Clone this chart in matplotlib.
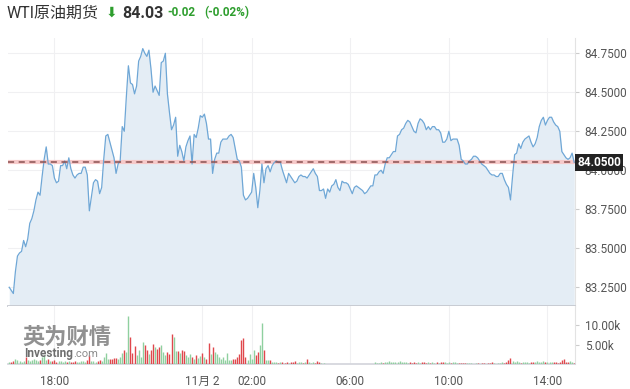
import matplotlib
matplotlib.use('Agg')
import matplotlib.pyplot as plt
import matplotlib.transforms as mtransforms
import numpy as np
import pandas as pd

plt.rcParams['font.family'] = ['Roboto', 'Noto Sans CJK SC', 'DejaVu Sans']

# 5-minute closes, 16:10 (Nov 1) -> 15:05 (Nov 2)
prices = [
    83.25, 83.23, 83.21, 83.35, 83.45, 83.47, 83.48, 83.55, 83.51, 83.56,
    83.66, 83.69, 83.74, 83.81, 83.86, 83.84, 83.96, 84.07, 84.15, 84.04,
    84.04, 84.03, 83.95, 83.92, 83.93, 84.03, 84.03, 84.06, 84.01, 84.08,
    84.01, 83.97, 83.95, 83.97, 83.98, 83.98, 84.02, 84.02, 83.97, 83.74,
    83.83, 83.92, 83.94, 83.93, 83.85, 83.89, 84.07, 84.22, 84.23, 84.18,
    84.13, 84.08, 83.98, 84.04, 84.06, 84.28, 84.25, 84.47, 84.67, 84.56,
    84.55, 84.49, 84.54, 84.70, 84.73, 84.78, 84.75, 84.73, 84.77, 84.65,
    84.50, 84.54, 84.51, 84.48, 84.69, 84.70, 84.75, 84.49, 84.37, 84.26,
    84.29, 84.34, 84.09, 84.16, 84.12, 84.06, 84.15, 84.19, 84.22, 84.04,
    84.23, 84.21, 84.27, 84.35, 84.34, 84.36, 84.30, 84.20, 84.20, 83.98,
    84.07, 84.11, 84.11, 84.18, 84.20, 84.20, 84.20, 84.22, 84.23, 84.21,
    84.14, 84.07, 84.06, 84.02, 83.84, 83.81, 83.82, 83.84, 83.86, 83.98,
    83.89, 83.76, 83.87, 84.04, 83.92, 84.01, 84.03, 83.99, 84.03, 84.05,
    84.06, 84.05, 84.05, 84.00, 83.96, 83.92, 83.98, 83.96, 83.94, 83.92,
    83.93, 83.96, 83.97, 83.96, 83.96, 83.95, 83.97, 83.99, 84.01, 83.98,
    83.96, 83.87, 83.87, 83.88, 83.82, 83.88, 83.86, 83.90, 83.91, 83.94,
    83.89, 83.87, 83.93, 83.92, 83.92, 83.91, 83.88, 83.85, 83.89, 83.90,
    83.89, 83.88, 83.87, 83.85, 83.86, 83.88, 83.90, 83.90, 83.97, 83.97,
    83.99, 84.00, 83.98, 84.04, 84.08, 84.08, 84.10, 84.12, 84.12, 84.22,
    84.23, 84.26, 84.27, 84.30, 84.32, 84.31, 84.28, 84.25, 84.24, 84.30,
    84.33, 84.32, 84.30, 84.26, 84.28, 84.26, 84.28, 84.28, 84.26, 84.26,
    84.24, 84.18, 84.18, 84.20, 84.25, 84.19, 84.20, 84.20, 84.20, 84.16,
    84.07, 84.06, 84.04, 84.04, 84.06, 84.07, 84.09, 84.09, 84.08, 84.06,
    84.04, 84.03, 84.02, 84.00, 83.98, 83.97, 83.97, 83.96, 83.96, 83.98,
    83.98, 83.94, 83.91, 83.89, 83.81, 83.96, 84.10, 84.11, 84.17, 84.14,
    84.18, 84.20, 84.21, 84.22, 84.18, 84.15, 84.17, 84.21, 84.28, 84.32,
    84.34, 84.29, 84.32, 84.34, 84.34, 84.31, 84.29, 84.28, 84.25, 84.12,
    84.10, 84.08, 84.07, 84.08, 84.11, 84.05,
]

# volume in thousands of contracts
volumes = [
    0.6, 0.5, 0.8, 1.4, 1.0, 0.8, 0.6, 0.9, 1.8, 1.1,
    0.9, 1.0, 1.2, 1.0, 0.9, 1.0, 1.8, 2.4, 1.0, 1.4,
    0.8, 0.7, 1.0, 0.6, 0.7, 0.8, 0.6, 0.7, 0.5, 0.8,
    0.6, 0.5, 0.7, 0.6, 0.5, 0.7, 0.8, 0.6, 1.0, 2.3,
    0.9, 0.8, 0.6, 0.9, 1.1, 0.8, 1.8, 2.8, 1.4, 1.3,
    1.4, 1.5, 1.6, 1.3, 1.9, 2.8, 3.5, 3.0, 12.3, 7.0,
    2.8, 4.6, 2.2, 3.5, 1.8, 5.7, 4.8, 3.7, 2.7, 3.7,
    5.3, 4.4, 3.9, 4.4, 5.0, 3.1, 2.2, 3.1, 2.7, 7.7,
    7.0, 3.3, 3.3, 2.9, 3.5, 3.3, 2.2, 1.8, 2.7, 1.8,
    1.4, 2.2, 1.6, 2.0, 2.8, 1.8, 1.4, 5.5, 2.7, 4.3,
    3.1, 2.5, 1.8, 1.4, 1.8, 1.0, 2.9, 1.0, 1.0, 1.4,
    1.4, 1.8, 2.6, 6.1, 6.8, 1.8, 1.0, 2.6, 1.4, 3.5,
    2.4, 3.1, 5.0, 10.7, 3.5, 1.1, 1.0, 1.1, 0.5, 0.4,
    0.5, 0.3, 0.4, 0.5, 0.3, 0.4, 0.3, 0.5, 0.4, 0.7,
    0.3, 0.5, 0.4, 0.3, 0.4, 1.4, 0.4, 0.3, 0.5, 0.3,
    0.7, 0.4, 0.3, 0.2, 0.1, 0.1, 0.1, 0.1, 0.1, 0.1,
    0.1, 0.1, 0.1, 0.1, 0.1, 0.1, 0.1, 0.1, 0.1, 0.1,
    0.1, 0.1, 0.1, 0.1, 0.1, 0.1, 0.1, 0.1, 0.4, 0.3,
    0.2, 0.4, 0.3, 0.6, 0.5, 0.7, 0.6, 0.5, 0.6, 0.5,
    0.7, 0.6, 0.5, 0.4, 0.3, 0.5, 0.3, 0.4, 0.3, 0.5,
    0.3, 0.4, 0.6, 0.3, 0.4, 0.3, 0.5, 0.3, 0.4, 0.3,
    0.5, 0.4, 0.6, 0.3, 0.5, 0.3, 0.4, 0.5, 0.3, 0.2,
    0.3, 0.2, 0.3, 0.2, 0.3, 0.2, 0.1, 0.3, 0.2, 0.1,
    0.3, 0.2, 0.1, 0.3, 0.2, 0.4, 0.2, 0.1, 0.3, 0.2,
    0.4, 0.3, 0.6, 1.0, 1.5, 0.9, 0.5, 0.8, 0.6, 0.3,
    0.4, 0.5, 0.6, 0.3, 0.4, 0.6, 0.5, 0.7, 0.6, 0.4,
    0.7, 0.5, 0.4, 0.6, 0.5, 0.4, 0.6, 0.3, 0.5, 1.0,
    1.2, 0.6, 0.4, 0.7, 0.5, 0.3,
]

times = pd.date_range('2023-11-01 16:10', periods=len(prices), freq='5min')

tick_times = ['2023-11-01 18:00', '2023-11-02 00:00', '2023-11-02 02:00',
              '2023-11-02 06:00', '2023-11-02 10:00', '2023-11-02 14:00']
tick_labels = ['18:00', '11月 2', '02:00', '06:00', '10:00', '14:00']
price_ticks = [83.25, 83.50, 83.75, 84.00, 84.25, 84.50, 84.75]
vol_ticks = [5, 10]

LINE = '#6fa7d6'
FILL = '#e4edf5'
GRID = '#f0f0f2'
TXT = '#555555'
UP = '#8fd09f'
DOWN = '#e0474c'

fig = plt.figure(figsize=(6.3, 3.89), dpi=100)
ax = fig.add_axes([8/630, 83/389, 567/630, 268/389])
axv = fig.add_axes([8/630, 25/389, 567/630, 58/389], sharex=ax)

# price panel
ax.fill_between(times, prices, 83.0, color=FILL, lw=0, zorder=1)
ax.plot(times, prices, color=LINE, lw=0.9, zorder=3)
last = prices[-1]
ax.axhline(last, color='#f6c9c9', lw=3, zorder=2)
ax.axhline(last, color='#8a5050', lw=1.1, ls=(0, (4, 3)), zorder=4)

ax.set_ylim(83.13, 84.848)
ax.set_xlim(pd.Timestamp('2023-11-01 16:07'), pd.Timestamp('2023-11-02 15:07'))
ax.set_yticks(price_ticks)
ax.set_yticklabels([f'{v:.4f}' for v in price_ticks])
ax.yaxis.tick_right()
ax.tick_params(axis='y', colors='#cccccc', labelcolor=TXT, labelsize=8.5,
               length=3, pad=4)
ax.tick_params(axis='x', bottom=False, labelbottom=False)
ax.grid(True, color=GRID, lw=0.8)
ax.set_axisbelow(True)
for s in ['left', 'top']:
    ax.spines[s].set_visible(False)
ax.spines['bottom'].set_color('#c6c9d0')
ax.spines['bottom'].set_linewidth(1.3)
ax.spines['right'].set_color('#e3e3e3')

# last-price tag sits over the 84.0000 tick label, as on the site
trans = mtransforms.blended_transform_factory(ax.transAxes, ax.transData)
ax.text(1.004, last, f'{last:.4f}', transform=trans, ha='left', va='center',
        color='white', fontsize=8.5, fontweight='bold', zorder=10, clip_on=False,
        bbox=dict(facecolor='#222222', edgecolor='none', pad=1.8))

# volume panel
colors = [UP] + [UP if prices[i] >= prices[i - 1] else DOWN
                 for i in range(1, len(prices))]
axv.vlines(times, 0, volumes, colors=colors, lw=1.0, zorder=3)
axv.set_ylim(0, 15)
axv.set_yticks(vol_ticks)
axv.set_yticklabels([f'{v:.2f}k' for v in vol_ticks])
axv.yaxis.tick_right()
axv.tick_params(axis='y', colors='#cccccc', labelcolor=TXT, labelsize=8.5,
                length=3, pad=4)
axv.set_xticks(pd.to_datetime(tick_times))
axv.set_xticklabels(tick_labels)
axv.tick_params(axis='x', length=0, labelcolor=TXT, labelsize=8.5, pad=8)
axv.grid(True, axis='x', color=GRID, lw=0.8)
axv.set_axisbelow(True)
for s in ['left', 'top']:
    axv.spines[s].set_visible(False)
axv.spines['bottom'].set_color('#d5d7dd')
axv.spines['bottom'].set_linewidth(1.3)
axv.spines['right'].set_color('#e3e3e3')

# watermark
fig.text(22/630, 1 - 337/389, '英为财情', fontsize=16, fontweight='bold',
         color='#858585', alpha=0.9, va='center', ha='left',
         family=['Noto Sans CJK SC'])
fig.text(24/630, 1 - 354/389, 'Investing', fontsize=8.5, fontweight='bold',
         color='#6e6e6e', va='center', ha='left')
fig.text(73/630, 1 - 354/389, '.com', fontsize=8, color='#8c8c8c',
         va='center', ha='left')

# header
fig.text(7/630, 1 - 13/389, 'WTI原油期货', fontsize=11.5, color='#333333',
         va='center', ha='left')
fig.text(106/630, 1 - 13/389, '⬇', fontsize=10, color='#2e9e2e',
         va='center', ha='left', family=['DejaVu Sans'])
fig.text(122/630, 1 - 13/389, '84.03', fontsize=11.5, fontweight='bold',
         color='#333333', va='center', ha='left')
fig.text(167/630, 1 - 13/389, '-0.02', fontsize=8.5, fontweight='bold',
         color='#2e9e2e', va='center', ha='left')
fig.text(204/630, 1 - 13/389, '(-0.02%)', fontsize=8.5, fontweight='bold',
         color='#2e9e2e', va='center', ha='left')

fig.savefig('out.png', dpi=100)
